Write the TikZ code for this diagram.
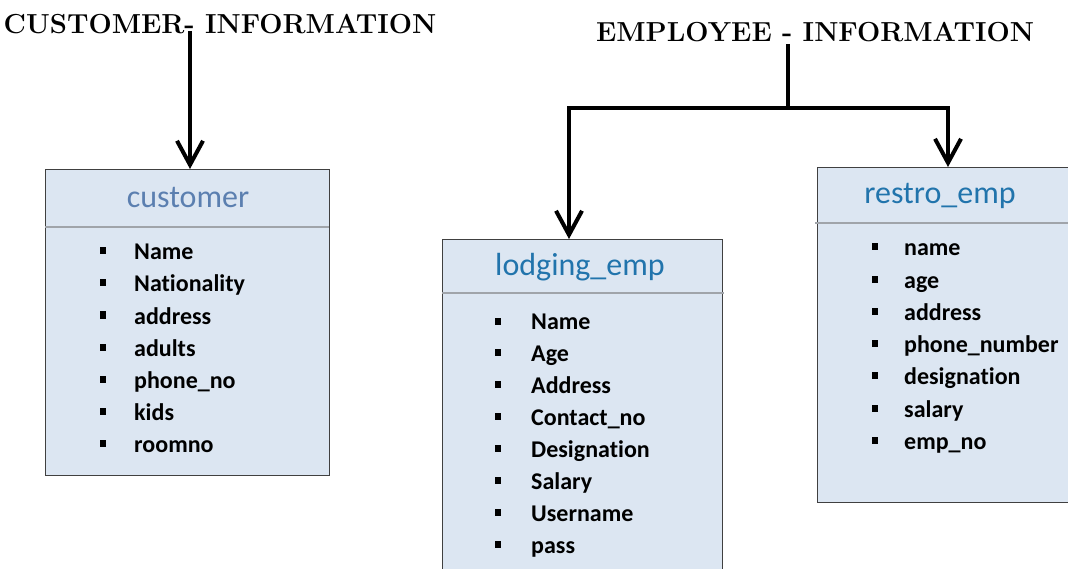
\documentclass[tikz,border=0pt]{standalone}
\usepackage{fontspec}
\newfontfamily\calfont{Carlito}[Ligatures=NoCommon]
\usetikzlibrary{arrows.meta}
\definecolor{boxfill}{HTML}{DCE6F2}
\definecolor{boxline}{HTML}{404040}
\definecolor{sepline}{HTML}{A0A4AA}
\definecolor{titleA}{HTML}{5B7FB0}
\definecolor{titleB}{HTML}{2174AC}
\begin{document}
\begin{tikzpicture}[x=1pt,y=-1pt,
  tbl/.style={draw=boxline, line width=1.2pt, fill=boxfill, rectangle, anchor=north west, inner sep=0pt},
  heading/.style={font=\fontsize{27.5}{30}\selectfont\bfseries, anchor=base, inner sep=0pt},
  tname/.style={font=\calfont\fontsize{32}{36}\selectfont, anchor=base, inner sep=0pt},
  item/.style={font=\calfont\bfseries\fontsize{24}{28}\selectfont, anchor=base west, inner sep=0pt},
  sep/.style={draw=sepline, line width=2.2pt},
  conn/.style={line width=4pt, -{Straight Barb[length=24pt,width=26pt,line width=4pt]}},
  stem/.style={line width=4pt}]
\useasboundingbox (0,0) rectangle (1068,569);
\fill[white] (0,0) rectangle (1068,569);
\clip (0,0) rectangle (1068,569);

% headings
\node[heading] (custhead) at (220,34) {CUSTOMER- INFORMATION};
\node[heading] (emphead) at (815,42) {EMPLOYEE - INFORMATION};

% customer table
\node[tbl, minimum width=284pt, minimum height=306pt] (cust) at (45,169) {};
\coordinate (cs1) at (45,227);
\coordinate (cs2) at (329,227);
\draw[sep] (cs1) -- (cs2);
\node[tname, text=titleA] (custname) at (188,208) {customer};
\foreach \t [count=\i] in {Name,Nationality,address,adults,phone\_no,kids,roomno}{
  \pgfmathsetmacro{\yb}{260+32*(\i-1)}
  \node[item] (ci\i) at (134,\yb) {\t};
  \fill (100,\yb-12.5) rectangle ++(6,7);
}

% lodging table
\node[tbl, minimum width=280pt, minimum height=360pt] (lodg) at (442,239) {};
\coordinate (ls1) at (442,293);
\coordinate (ls2) at (724,293);
\draw[sep] (ls1) -- (ls2);
\node[tname, text=titleB] (lodgname) at (580,276) {lodging\_emp};
\foreach \t [count=\i] in {Name,Age,Address,Contact\_no,Designation,Salary,Username,pass}{
  \pgfmathsetmacro{\yb}{330+31.86*(\i-1)}
  \node[item] (li\i) at (531,\yb) {\t};
  \fill (495,\yb-12.5) rectangle ++(6,7);
}

% restro table
\node[tbl, minimum width=270pt, minimum height=335pt] (restro) at (817,167) {};
\coordinate (rs1) at (815,223);
\coordinate (rs2) at (1068,223);
\draw[sep] (rs1) -- (rs2);
\node[tname, text=titleB] (restroname) at (940,204) {restro\_emp};
\foreach \t [count=\i] in {name,age,address,phone\_number,designation,salary,emp\_no}{
  \pgfmathsetmacro{\yb}{256+32.2*(\i-1)}
  \node[item] (ri\i) at (904,\yb) {\t};
  \fill (872,\yb-12.5) rectangle ++(6,7);
}

% connectors
\coordinate (cstart) at (190,31);
\draw[conn] (cstart) -- (cust.north -| cstart);

\coordinate (estart) at (788,44);
\coordinate (ejoin) at (788,108);
\coordinate (eleft) at (569,108);
\coordinate (eright) at (948,108);
\draw[stem] (estart) -- (ejoin);
\draw[conn] (ejoin) -- (eleft) -- (lodg.north -| eleft);
\draw[conn] (ejoin) -- (eright) -- (restro.north -| eright);
\end{tikzpicture}
\end{document}
